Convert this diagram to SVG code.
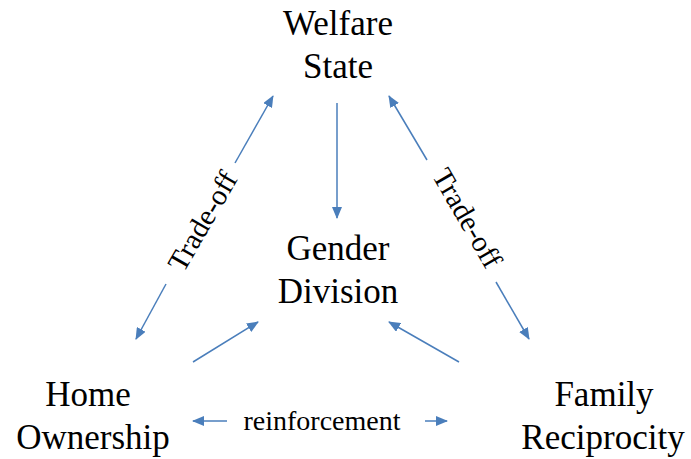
<svg xmlns="http://www.w3.org/2000/svg" width="691" height="459" viewBox="0 0 691 459">
<style>
.t{font-family:"Liberation Serif","Times New Roman",serif;font-size:35px;fill:#000;text-anchor:middle}
.l{font-family:"Liberation Serif","Times New Roman",serif;font-size:28px;fill:#000;text-anchor:middle}
.c{stroke:#4A7EBB;stroke-width:1.5;fill:none}
</style>
<defs>
<marker id="ah" markerWidth="12" markerHeight="10" refX="11" refY="5" orient="auto" markerUnits="userSpaceOnUse">
<path d="M0,0 L12,5 L0,10 Z" fill="#4A7EBB"/>
</marker>
</defs>
<rect width="691" height="459" fill="#fff"/>
<g id="welfare"><text class="t" x="338" y="35">Welfare</text><text class="t" x="338" y="78">State</text></g>
<g id="gender"><text class="t" x="338" y="260">Gender</text><text class="t" x="338" y="303">Division</text></g>
<g id="home"><text class="t" x="88" y="406">Home</text><text class="t" x="93" y="449">Ownership</text></g>
<g id="family"><text class="t" x="604" y="406">Family</text><text class="t" x="603" y="449">Reciprocity</text></g>
<g id="connectors">
<line class="c" x1="337" y1="103" x2="337" y2="218" marker-end="url(#ah)"/>
<line class="c" x1="235" y1="163" x2="273" y2="96" marker-end="url(#ah)"/>
<line class="c" x1="166" y1="284" x2="136" y2="339" marker-end="url(#ah)"/>
<line class="c" x1="427" y1="160" x2="389" y2="96" marker-end="url(#ah)"/>
<line class="c" x1="496" y1="282" x2="529" y2="339" marker-end="url(#ah)"/>
<line class="c" x1="193" y1="362" x2="258" y2="322" marker-end="url(#ah)"/>
<line class="c" x1="459" y1="362" x2="389" y2="322" marker-end="url(#ah)"/>
<line class="c" x1="227" y1="421" x2="193" y2="421" marker-end="url(#ah)"/>
<line class="c" x1="425" y1="421" x2="447" y2="421" marker-end="url(#ah)"/>
<text class="l" style="font-size:29px" transform="translate(211,226) rotate(-60)">Trade-off</text>
<text class="l" style="font-size:29px" transform="translate(459,223) rotate(60)">Trade-off</text>
<text class="l" x="322" y="430">reinforcement</text>
</g>
</svg>
